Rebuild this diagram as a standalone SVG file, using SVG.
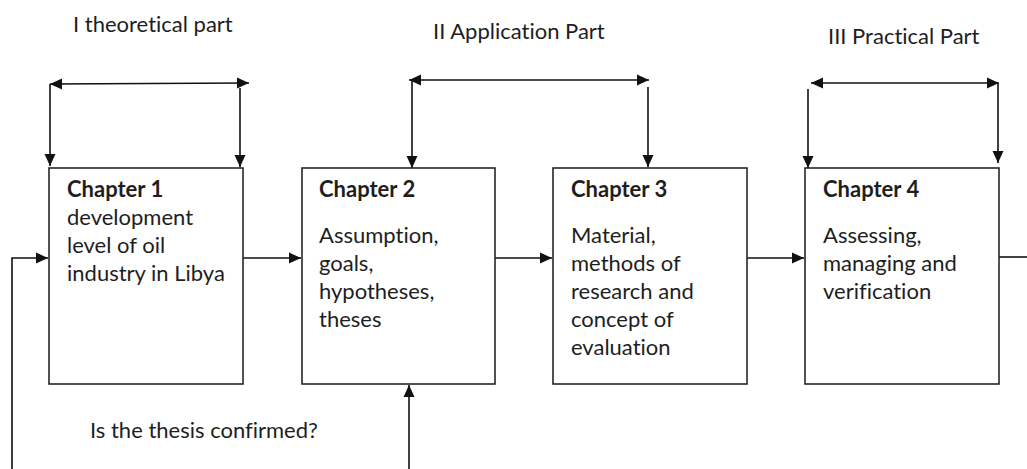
<svg xmlns="http://www.w3.org/2000/svg" width="1027" height="469" viewBox="0 0 1027 469">
  <style>
    .box { fill: #ffffff; stroke: #262626; stroke-width: 1.6; }
    .line { fill: none; stroke: #111111; stroke-width: 1.6; }
    .arr { marker-end: url(#head); }
    .dbl { marker-start: url(#headStart); marker-end: url(#head); }
    text { font-family: Lato, "Liberation Sans", sans-serif; font-size: 22px; fill: #1e1e1e; font-variant-ligatures: none; }
    .title { font-weight: bold; }
  </style>
  <defs>
    <marker id="head" markerUnits="userSpaceOnUse" markerWidth="13" markerHeight="13" viewBox="0 0 13 13" refX="12" refY="6.5" orient="auto">
      <path d="M0,1 L12,6.5 L0,12 Z" fill="#111111"/>
    </marker>
    <marker id="headStart" markerUnits="userSpaceOnUse" markerWidth="13" markerHeight="13" viewBox="0 0 13 13" refX="12" refY="6.5" orient="auto-start-reverse">
      <path d="M0,1 L12,6.5 L0,12 Z" fill="#111111"/>
    </marker>
  </defs>

  <rect width="1027" height="469" fill="#ffffff"/>

  <!-- part headings -->
  <g id="part-labels">
    <text x="73" y="32">I theoretical part</text>
    <text x="433" y="39">II Application Part</text>
    <text x="828" y="44">III Practical Part</text>
    <text x="90" y="438">Is the thesis confirmed?</text>
  </g>

  <!-- connectors -->
  <g id="connectors">
    <!-- part I bracket -->
    <line class="line dbl" x1="50" y1="84" x2="249" y2="83"/>
    <line class="line arr" x1="50" y1="84" x2="50" y2="166"/>
    <line class="line arr" x1="240" y1="88" x2="240" y2="167"/>
    <!-- part II bracket -->
    <line class="line dbl" x1="409" y1="80" x2="649" y2="80"/>
    <line class="line arr" x1="412" y1="80" x2="412" y2="168"/>
    <line class="line arr" x1="648" y1="87" x2="648" y2="167"/>
    <!-- part III bracket -->
    <line class="line dbl" x1="811" y1="83" x2="999" y2="83"/>
    <line class="line arr" x1="808" y1="89" x2="808" y2="168"/>
    <line class="line arr" x1="998" y1="83" x2="998" y2="163"/>
    <!-- main flow -->
    <polyline class="line arr" points="12,469 12,258 48,258"/>
    <line class="line arr" x1="243" y1="258" x2="301" y2="258"/>
    <line class="line arr" x1="495" y1="258" x2="552" y2="258"/>
    <line class="line arr" x1="747" y1="258" x2="804" y2="258"/>
    <line class="line" x1="999" y1="257" x2="1027" y2="257"/>
    <!-- feedback into chapter 2 -->
    <line class="line arr" x1="409" y1="469" x2="409" y2="385"/>
  </g>

  <g id="chapter1">
    <rect class="box" x="49" y="168" width="194" height="216"/>
    <text class="title" x="67" y="197">Chapter 1</text>
    <text x="67" y="225">development</text>
    <text x="67" y="253">level of oil</text>
    <text x="67" y="281">industry in Libya</text>
  </g>

  <g id="chapter2">
    <rect class="box" x="302" y="168" width="193" height="216"/>
    <text class="title" x="319" y="197">Chapter 2</text>
    <text x="319" y="243">Assumption,</text>
    <text x="319" y="271">goals,</text>
    <text x="319" y="299">hypotheses,</text>
    <text x="319" y="327">theses</text>
  </g>

  <g id="chapter3">
    <rect class="box" x="553" y="168" width="194" height="216"/>
    <text class="title" x="571" y="197">Chapter 3</text>
    <text x="571" y="243">Material,</text>
    <text x="571" y="271">methods of</text>
    <text x="571" y="299">research and</text>
    <text x="571" y="327">concept of</text>
    <text x="571" y="355">evaluation</text>
  </g>

  <g id="chapter4">
    <rect class="box" x="805" y="168" width="194" height="216"/>
    <text class="title" x="823" y="197">Chapter 4</text>
    <text x="823" y="243">Assessing,</text>
    <text x="823" y="271">managing and</text>
    <text x="823" y="299">verification</text>
  </g>
</svg>
